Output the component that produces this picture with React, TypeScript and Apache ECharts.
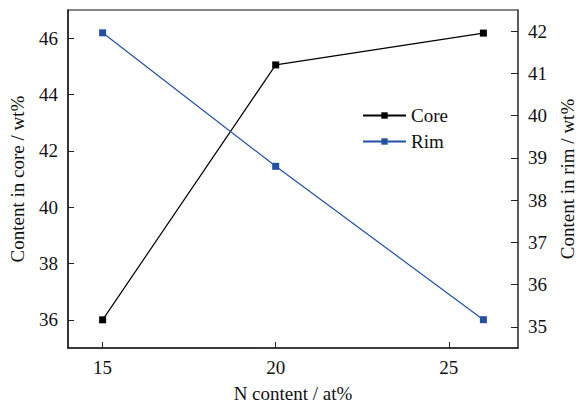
import React, { useEffect, useRef } from "react";
import * as echarts from "echarts";

const nContent = [15, 20, 26];
const coreValues = [36.0, 45.05, 46.18];
const rimValues = [41.96, 38.8, 35.17];
const xTicks = [15, 20, 25];
const coreTicks = [36, 38, 40, 42, 44, 46];
const rimTicks = [35, 36, 37, 38, 39, 40, 41, 42];

const FONT = "Liberation Serif";

const pick = (list: number[]) => (v: number) =>
  list.some((t) => Math.abs(t - v) < 1e-6) ? String(Math.round(v)) : "";

export default function App() {
  const ref = useRef<HTMLDivElement>(null);
  useEffect(() => {
    if (!ref.current) return;
    const chart = echarts.init(ref.current, null, { renderer: "svg" });
    const axisLabel = { fontFamily: FONT, fontSize: 19, color: "#111" };
    chart.setOption({
      animation: false,
      backgroundColor: "#fff",
      textStyle: { fontFamily: FONT, fontSize: 19 },
      grid: {
        left: 68,
        right: 56,
        top: 10,
        bottom: 55,
        show: true,
        borderColor: "#111",
        borderWidth: 1.2,
      },
      legend: {
        orient: "vertical",
        left: 357,
        top: 101,
        itemWidth: 43,
        itemHeight: 8,
        itemGap: 7,
        textStyle: { fontFamily: FONT, fontSize: 19, color: "#111" },
        data: ["Core", "Rim"],
      },
      xAxis: {
        type: "value",
        min: 14,
        max: 27,
        interval: 1,
        name: "N content / at%",
        nameLocation: "middle",
        nameGap: 36,
        nameTextStyle: { fontFamily: FONT, fontSize: 19, color: "#111" },
        axisLine: { show: true, lineStyle: { color: "#222", width: 1.5 } },
        axisTick: { show: true, inside: true, length: 6, customValues: xTicks, lineStyle: { color: "#222" } },
        axisLabel: { ...axisLabel, margin: 10, formatter: pick(xTicks) },
        splitLine: { show: false },
      },
      yAxis: [
        {
          type: "value",
          min: 35,
          max: 47,
          interval: 1,
          position: "left",
          name: "Content in core / wt%",
          nameLocation: "middle",
          nameGap: 41,
          nameTextStyle: { fontFamily: FONT, fontSize: 19, color: "#111" },
          axisLine: { show: true, lineStyle: { color: "#222", width: 1.5 } },
          axisTick: { show: true, inside: true, length: 6, customValues: coreTicks, lineStyle: { color: "#222" } },
          axisLabel: { ...axisLabel, margin: 10, formatter: pick(coreTicks) },
          splitLine: { show: false },
        },
        {
          type: "value",
          min: 34.5,
          max: 42.5,
          interval: 0.5,
          position: "right",
          name: "Content in rim / wt%",
          nameLocation: "middle",
          nameGap: 40,
          nameRotate: 90,
          nameTextStyle: { fontFamily: FONT, fontSize: 19, color: "#111" },
          axisLine: { show: true, lineStyle: { color: "#555", width: 1.5 } },
          axisTick: { show: true, inside: true, length: 7, customValues: rimTicks, lineStyle: { color: "#222" } },
          axisLabel: { ...axisLabel, margin: 10, formatter: pick(rimTicks) },
          splitLine: { show: false },
        },
      ],
      series: [
        {
          name: "Core",
          type: "line",
          yAxisIndex: 0,
          data: nContent.map((x, i) => [x, coreValues[i]]),
          symbol: "rect",
          symbolSize: 7,
          color: "#000",
          lineStyle: { color: "#000", width: 1.2 },
          itemStyle: { color: "#000" },
        },
        {
          name: "Rim",
          type: "line",
          yAxisIndex: 1,
          data: nContent.map((x, i) => [x, rimValues[i]]),
          symbol: "rect",
          symbolSize: 7,
          color: "#2251a3",
          lineStyle: { color: "#2251a3", width: 1.2 },
          itemStyle: { color: "#2251a3" },
        },
      ],
    });
    return () => chart.dispose();
  }, []);
  return <div ref={ref} style={{ width: 585, height: 408, position: "absolute", left: 0, top: 0 }} />;
}
